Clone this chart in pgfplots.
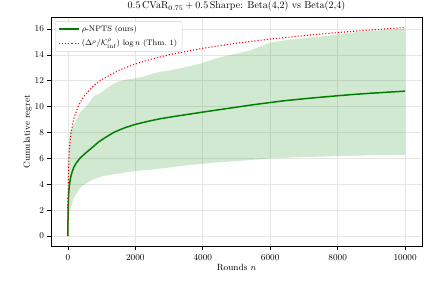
\documentclass[border=0pt]{standalone}
\usepackage{pgfplots}
\pgfplotsset{compat=1.18}
\definecolor{mplgreen}{HTML}{008000}
\definecolor{mplred}{HTML}{FF0000}
\definecolor{gridgray}{HTML}{E6E6E6}
\begin{document}
\begin{tikzpicture}
\begin{axis}[
  scale only axis,
  width=371pt, height=229.5pt,
  xmin=-500, xmax=10500,
  ymin=-0.81, ymax=16.93,
  xtick={0,2000,4000,6000,8000,10000},
  ytick={0,2,4,6,8,10,12,14,16},
  scaled x ticks=false,
  /pgf/number format/1000 sep={},
  tick label style={font=\fontsize{9}{10}\selectfont},
  xticklabel style={yshift=-1pt},
  tick align=outside,
  xtick pos=bottom, ytick pos=left,
  major tick length=3.5pt,
  tick style={black, line width=0.7pt},
  axis line style={black, line width=0.9pt},
  grid=major,
  major grid style={gridgray, line width=0.7pt},
  title={$0.5\,\mathrm{CVaR}_{0.75}+0.5\,$Sharpe: Beta(4,2) vs Beta(2,4)},
  title style={font=\fontsize{10}{11}\selectfont, yshift=-4pt},
  xlabel={Rounds $n$},
  ylabel={Cumulative regret},
  label style={font=\fontsize{9}{10}\selectfont},
  xlabel style={yshift=3pt},
  ylabel style={yshift=-4pt},
  legend style={at={(0.011,0.982)}, anchor=north west, font=\fontsize{8}{9.5}\selectfont,
    draw=gray!35, rounded corners=2pt, fill=white, inner xsep=3pt, inner ysep=2pt,
    row sep=2.5pt, cells={anchor=west}},
  legend cell align=left,
  legend image code/.code={\draw[#1] (0pt,0pt) -- (20pt,0pt);},
]
% band: upper bound forward, then lower bound backward
\addplot[fill=mplgreen, fill opacity=0.18, draw=none, forget plot] coordinates {
(1,0) (10,5.0) (30,7.2) (50,8.0) (180,8.6) (375,9.6) (570,10.1) (765,10.8) (970,11.05)
(1255,11.6) (1500,11.95) (1745,12.1) (2140,12.25) (2724,12.7) (2920,12.75) (3400,13.0)
(3900,13.3) (4490,13.8) (5000,14.1) (5350,14.3) (6000,14.95) (6500,15.15) (7000,15.3)
(7800,15.5) (8500,15.75) (9000,15.85) (10000,16.05)
(10000,6.28) (9000,6.24) (8000,6.18) (7000,6.1) (6000,6.0) (5300,5.85) (4400,5.68)
(3570,5.48) (2700,5.2) (2000,5.02) (1340,4.77) (1050,4.64) (760,4.38) (565,4.12)
(370,3.74) (175,2.97) (80,2.07) (30,1.8) (10,1.0) (1,0)
} -- cycle;
\addplot[mplgreen, line width=1.5pt] coordinates {
(1,0) (3,1.0) (8,2.0) (15,2.8) (30,3.5) (50,4.0) (80,4.5) (120,4.9) (175,5.3) (250,5.65)
(370,6.05) (565,6.5) (750,6.9) (900,7.25) (1100,7.6) (1390,8.05) (1700,8.38) (2000,8.63)
(2400,8.88) (2724,9.06) (3170,9.25) (3600,9.42) (4000,9.58) (4500,9.77) (5000,9.96)
(5500,10.15) (6000,10.32) (6426,10.46) (7000,10.61) (7500,10.73) (7985,10.84) (8500,10.95)
(9000,11.04) (9500,11.12) (10000,11.2)
};
\addlegendentry{$\rho$-NPTS (ours)}
\addplot[mplred, line width=1.1pt, dotted] coordinates {
(1,0) (2,1.213) (5,2.817) (10,4.030) (20,5.243) (30,5.952) (50,6.846) (100,8.059)
(150,8.769) (200,9.272) (300,9.982) (400,10.485) (500,10.876) (750,11.585) (1000,12.089)
(1500,12.798) (2000,13.301) (2500,13.692) (3000,14.011) (4000,14.514) (5000,14.905)
(6000,15.224) (7000,15.494) (8000,15.728) (9000,15.934) (10000,16.118)
};
\addlegendentry{$(\Delta^{\rho}/\mathcal{K}^{\rho}_{\inf})\,\log n$ (Thm.~1)}
\end{axis}
\pgfresetboundingbox
\path[use as bounding box] (-51pt,-35pt) rectangle (380pt,246.5pt);
\end{tikzpicture}
\end{document}
